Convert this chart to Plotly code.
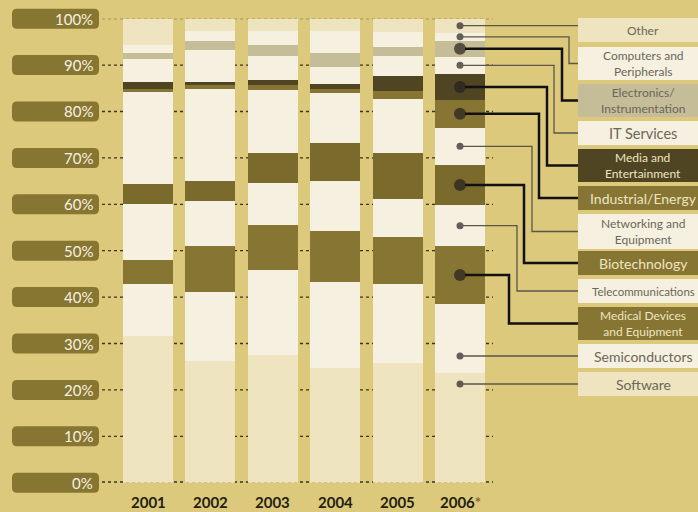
import plotly.graph_objects as go

W, H = 698, 512

# data (percent share per year, bottom to top of each bar)
years = ["2001", "2002", "2003", "2004", "2005", "2006*"]
year_labels = ["2001", "2002", "2003", "2004", "2005",
               "2006<span style='color:#7a6b2d'>*</span>"]
sectors = ["Software", "Semiconductors", "Medical Devices and Equipment",
           "Telecommunications", "Biotechnology", "Networking and Equipment",
           "Industrial/Energy", "Media and Entertainment", "IT Services",
           "Electronics/Instrumentation", "Computers and Peripherals", "Other"]
software = [31.6, 26.2, 27.5, 24.7, 25.8, 23.6]
semiconductors = [11.2, 14.9, 18.3, 18.6, 17.0, 14.9]
medical = [5.2, 9.9, 9.7, 10.9, 10.1, 12.5]
telecom = [12.1, 9.7, 9.1, 10.8, 8.2, 8.8]
biotech = [4.3, 4.3, 6.5, 8.2, 10.0, 8.7]
networking = [19.9, 19.8, 13.6, 10.7, 11.6, 8.0]
industrial = [0.5, 1.0, 1.0, 0.9, 1.7, 6.0]
media = [1.6, 0.6, 1.1, 1.1, 3.2, 5.6]
it_services = [4.9, 6.9, 5.2, 3.7, 4.4, 3.7]
electronics = [1.4, 2.0, 2.4, 3.0, 1.9, 3.4]
computers = [1.6, 2.0, 2.9, 4.7, 3.3, 1.8]
other = [5.7, 2.7, 2.7, 2.7, 2.8, 3.0]
series = [software, semiconductors, medical, telecom, biotech, networking,
          industrial, media, it_services, electronics, computers, other]

ticks = [0, 10, 20, 30, 40, 50, 60, 70, 80, 90, 100]
tick_labels = ["0%", "10%", "20%", "30%", "40%", "50%", "60%", "70%", "80%", "90%", "100%"]

# styling
BG = "#dcc97c"
TAN = "#eee4c0"
CREAM = "#f6f0e0"
GREY = "#c5bc98"
DARK = "#4f4522"
OLIVE = "#877633"
OLIVE2 = "#7a6a2c"
colors = [TAN, CREAM, OLIVE, CREAM, OLIVE2, CREAM, OLIVE, DARK, CREAM, GREY, CREAM, TAN]
legend_fill = [TAN, CREAM, OLIVE, CREAM, OLIVE, CREAM, OLIVE, DARK, CREAM, GREY, CREAM, TAN]
legend_text = ["Software", "Semiconductors", "Medical Devices<br>and Equipment",
               "Telecommunications", "Biotechnology", "Networking and<br>Equipment",
               "Industrial/Energy", "Media and<br>Entertainment", "IT Services",
               "Electronics/<br>Instrumentation", "Computers and<br>Peripherals", "Other"]
legend_size = [14, 14, 12, 11.5, 14, 12, 14, 12, 14.5, 12, 12, 12]
legend_box = [(372, 396), (344, 368), (307, 340), (279, 303), (251, 275), (214, 249),
              (186, 210), (149, 182), (121, 145), (84, 117), (47, 80), (18, 42)]
elbow_x = [None, None, 509, 517, 524, 532, 539, 547, 554, 562, 569, None]
big = [False, False, True, False, True, False, True, True, False, True, False, False]

Y0, Y100 = 482.7, 18.7
X0, STEP = 148.0, 62.4


def ypix(v):
    return Y0 - v * (Y0 - Y100) / 100.0


def px(x):
    return x / W


def py(y):
    return 1 - y / H


def rrect(x0, y0, x1, y1, r):
    pts = [("M", x0 + r, y0), ("L", x1 - r, y0), ("Q", x1, y0, x1, y0 + r),
           ("L", x1, y1 - r), ("Q", x1, y1, x1 - r, y1), ("L", x0 + r, y1),
           ("Q", x0, y1, x0, y1 - r), ("L", x0, y0 + r), ("Q", x0, y0, x0 + r, y0)]
    out = ""
    for p in pts:
        vals = p[1:]
        coords = [f"{px(vals[i]):.5f},{py(vals[i+1]):.5f}" for i in range(0, len(vals), 2)]
        out += p[0] + " " + " ".join(coords) + " "
    return out + "Z"


fig = go.Figure()
for name, vals, col in zip(sectors, series, colors):
    fig.add_trace(go.Bar(x=years, y=vals, name=name, width=0.8,
                         marker=dict(color=col, line=dict(width=0)),
                         hoverinfo="name+y"))

shapes = []
annotations = []

# gridlines + tick boxes
for t, lab in zip(ticks, tick_labels):
    shapes.append(dict(type="line", xref="paper", yref="y", x0=px(102), x1=px(493),
                       y0=t, y1=t, layer="below",
                       line=dict(color="#3b3418" if t < 100 else "#6b6040",
                                 width=3 if t == 0 else 1.3, dash="3px,3px")))
    yc = ypix(t)
    shapes.append(dict(type="path", xref="paper", yref="paper",
                       path=rrect(12, yc - 10, 99, yc + 10, 5),
                       fillcolor="#877632", line=dict(width=0)))
    annotations.append(dict(xref="paper", yref="y", x=px(95), y=t, text=lab,
                            showarrow=False, xanchor="right", yanchor="middle",
                            font=dict(family="Lato", size=15, color="#f6f0e0")))

# year labels (category index positions)
for i, lab in enumerate(year_labels):
    annotations.append(dict(xref="x", yref="paper", x=i, y=py(502), text=lab,
                            showarrow=False, yanchor="middle",
                            font=dict(family="Lato", size=15, color="#231f10", weight="bold")))

# legend boxes, leader lines and dots
last = [s[-1] for s in series]
cum = 0
dot_y = []
for i, v in enumerate(last):
    mid = cum + v / 2
    cum += v
    b0, b1 = legend_box[i]
    yb = (b0 + b1) / 2
    shapes.append(dict(type="rect", xref="paper", yref="paper", x0=px(578), x1=px(710),
                       y0=py(b1), y1=py(b0), fillcolor=legend_fill[i], line=dict(width=0)))
    txt_col = "#6b675a" if legend_fill[i] in (TAN, CREAM, GREY) else "#eee4c0"
    annotations.append(dict(xref="paper", yref="paper", x=px(643), y=py(yb),
                            text=legend_text[i], showarrow=False,
                            font=dict(family="Lato", size=legend_size[i], color=txt_col),
                            xanchor="center", yanchor="middle"))
    r = 5 if big[i] else 3
    if elbow_x[i] is None:
        yd = ypix(mid) if i == len(last) - 1 else yb
        pts = [(460 + r, yd), (578, yd)]
    else:
        yd = ypix(mid)
        pts = [(460 + r, yd), (elbow_x[i], yd), (elbow_x[i], yb), (578, yb)]
    dot_y.append((Y0 - yd) * 100.0 / (Y0 - Y100))
    path = "M " + " L ".join(f"{px(a):.5f},{py(b):.5f}" for a, b in pts)
    shapes.append(dict(type="path", xref="paper", yref="paper", path=path,
                       line=dict(color="#111111" if big[i] else "#5a5648",
                                 width=2.5 if big[i] else 1.3)))

fig.add_trace(go.Scatter(x=[years[-1]] * len(dot_y), y=dot_y, mode="markers",
                         marker=dict(color="#231f20", size=[12 if b else 7 for b in big],
                                     line=dict(width=0)),
                         hoverinfo="skip", showlegend=False))

fig.update_layout(
    width=W, height=H,
    margin=dict(l=0, r=0, t=0, b=0),
    paper_bgcolor=BG, plot_bgcolor=BG,
    barmode="stack",
    showlegend=False,
    xaxis=dict(type="category", categoryorder="array", categoryarray=years,
               range=[-X0 / STEP, (W - X0) / STEP], domain=[0, 1],
               showticklabels=False, showgrid=False, zeroline=False, fixedrange=True),
    yaxis=dict(range=[0, 100], domain=[py(Y0), py(Y100)], showticklabels=False,
               showgrid=False, zeroline=False, fixedrange=True),
    shapes=shapes,
    annotations=annotations,
)

fig.write_html("out.html", post_script="document.body.style.margin='0';",
               config={"displayModeBar": False})
